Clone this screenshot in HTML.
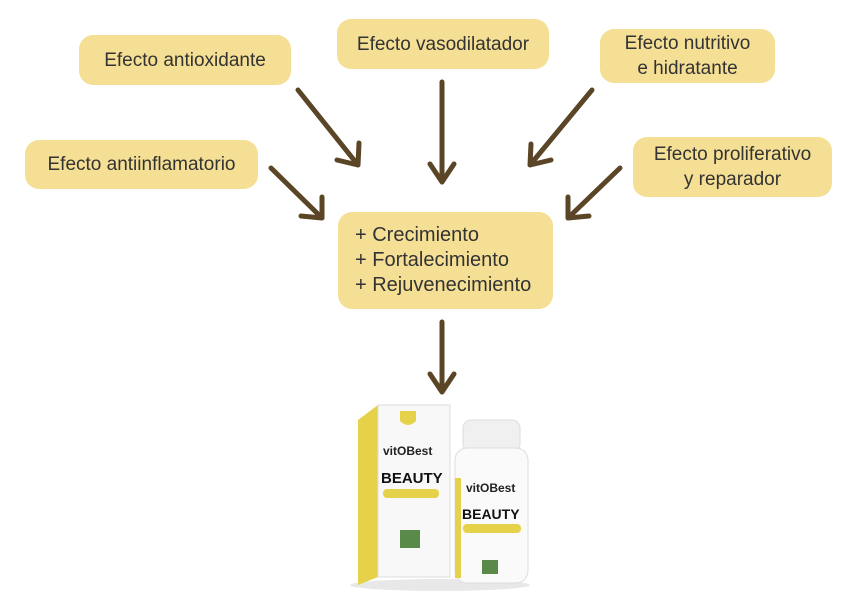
<!DOCTYPE html>
<html><head><meta charset="utf-8"><style>
body{margin:0;width:867px;height:606px;background:#fff;position:relative;overflow:hidden;font-family:"Liberation Sans",sans-serif;}
.b{position:absolute;background:#f5df95;border-radius:14px;color:#333;font-size:19px;display:flex;align-items:center;justify-content:center;text-align:center;line-height:25px;}
svg{position:absolute;left:0;top:0;}
</style></head><body>
<div class="b" style="left:79px;top:35px;width:212px;height:50px">Efecto antioxidante</div>
<div class="b" style="left:337px;top:19px;width:212px;height:50px">Efecto vasodilatador</div>
<div class="b" style="left:600px;top:29px;width:175px;height:54px">Efecto nutritivo<br>e hidratante</div>
<div class="b" style="left:25px;top:140px;width:233px;height:49px">Efecto antiinflamatorio</div>
<div class="b" style="left:633px;top:137px;width:199px;height:60px">Efecto proliferativo<br>y reparador</div>
<div class="b" style="left:338px;top:212px;width:215px;height:97px;justify-content:flex-start;text-align:left;padding-left:17px;box-sizing:border-box;font-size:20px;line-height:25px">+ Crecimiento<br>+ Fortalecimiento<br>+ Rejuvenecimiento</div>
<svg width="867" height="606" viewBox="0 0 867 606">
<g stroke="#5a4526" stroke-width="5" stroke-linecap="round" stroke-linejoin="round" fill="none">
<path d="M298 90 L358 165 M337 160 L358 165 L359 143"/>
<path d="M442 82 L442 182 M430 164 L442 182 L454 164"/>
<path d="M592 90 L530 165 M531 144 L530 165 L551 160"/>
<path d="M271 168 L322 218 M301 216 L322 218 L322 197"/>
<path d="M620 168 L568 218 M568 197 L568 218 L589 216"/>
<path d="M442 322 L442 392 M430 374 L442 392 L454 374"/>
</g>
<ellipse cx="440" cy="585" rx="90" ry="6" fill="#e8e8e8"/>
<polygon points="358,420 378,405 378,577 358,585" fill="#e6d24a"/>
<polygon points="378,405 450,405 450,577 378,577" fill="#f8f8f8" stroke="#ddd"/>
<path d="M400 411 h16 v10 q-8 8 -16 0z" fill="#e6d24a"/>
<text x="383" y="455" font-family="Liberation Sans" font-weight="bold" font-size="12" fill="#222">vitOBest</text>
<text x="381" y="483" font-family="Liberation Sans" font-weight="bold" font-size="15" fill="#111">BEAUTY</text>
<rect x="383" y="489" width="56" height="9" rx="4" fill="#e6d24a"/>
<rect x="400" y="530" width="20" height="18" fill="#5a8a4a"/>
<rect x="463" y="420" width="57" height="32" rx="8" fill="#f0f0f0" stroke="#ddd"/>
<rect x="455" y="448" width="73" height="135" rx="12" fill="#fafafa" stroke="#ddd"/>
<rect x="455" y="478" width="6" height="100" fill="#e6d24a"/>
<text x="466" y="492" font-family="Liberation Sans" font-weight="bold" font-size="12" fill="#222">vitOBest</text>
<text x="462" y="519" font-family="Liberation Sans" font-weight="bold" font-size="14" fill="#111">BEAUTY</text>
<rect x="463" y="524" width="58" height="9" rx="4" fill="#e6d24a"/>
<rect x="482" y="560" width="16" height="14" fill="#5a8a4a"/>
</svg>
</body></html>
